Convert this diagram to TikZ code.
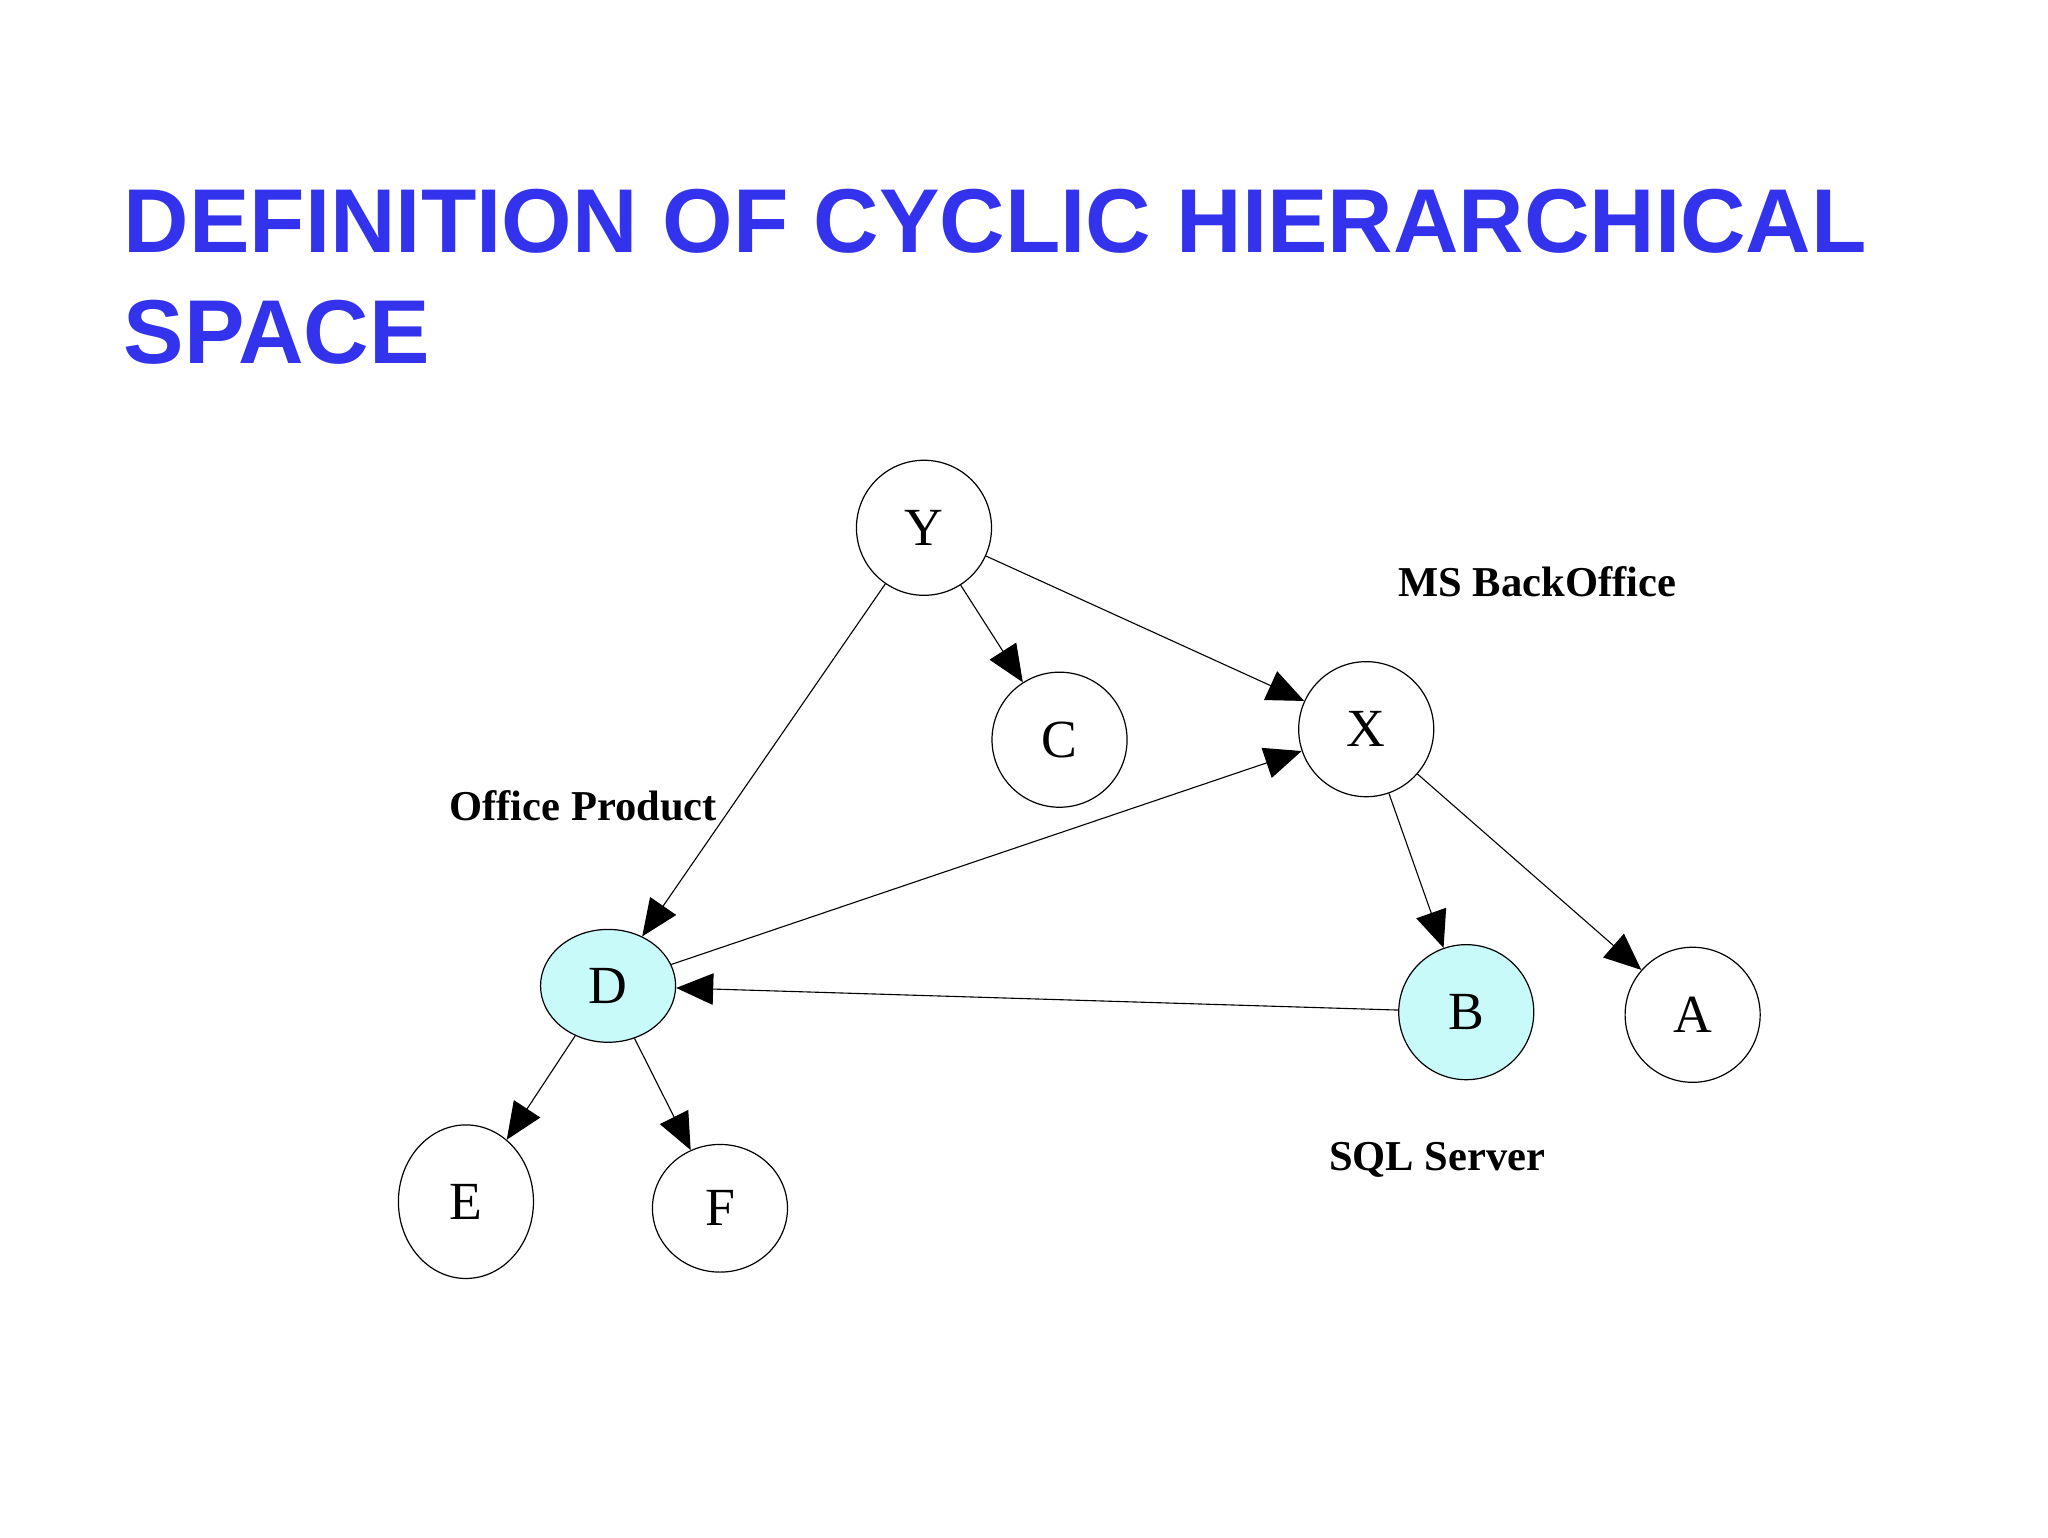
\documentclass[tikz,border=0pt]{standalone}
\usepackage{fontspec}
\setmainfont{Liberation Serif}
\newfontfamily\titlefont{Liberation Sans}
\usetikzlibrary{arrows.meta,shapes.geometric}
\definecolor{titleblue}{RGB}{51,51,238}
\definecolor{nodecyan}{RGB}{200,250,250}
\begin{document}
\begin{tikzpicture}[x=0.05cm,y=-0.05cm,
  gnode/.style={draw,line width=1.3pt,circle,minimum size=146pt,inner sep=0pt,font=\fontsize{58}{58}\selectfont},
  hnode/.style={gnode,fill=nodecyan},
  lbl/.style={font=\bfseries\fontsize{46}{46}\selectfont},
  edge/.style={line width=1.2pt,-{Triangle[length=40pt,width=34pt]}}]
\useasboundingbox[fill=white] (0,0) rectangle (1556,1168);
\node[anchor=base west,text=titleblue,font=\titlefont\bfseries\fontsize{98}{98}\selectfont,inner sep=0pt] (t1) at (94,192) {DEFINITION OF CYCLIC HIERARCHICAL};
\node[anchor=base west,text=titleblue,font=\titlefont\bfseries\fontsize{98}{98}\selectfont,inner sep=0pt] (t2) at (94,276) {SPACE};
\node[gnode] (Y) at (702,401) {Y};
\node[gnode] (C) at (805,562) {C};
\node[gnode] (X) at (1038,554) {X};
\node[hnode,ellipse,minimum width=146pt,minimum height=122pt] (D) at (462,749) {D};
\node[hnode] (B) at (1114,769) {B};
\node[gnode] (A) at (1286,771) {A};
\node[gnode,minimum width=146pt,minimum height=166pt,ellipse] (E) at (354,913) {E};
\node[gnode,minimum width=146pt,minimum height=138pt,ellipse] (F) at (547,918) {F};
\node[lbl] (l1) at (1168,442) {MS BackOffice};
\node[lbl] (l2) at (443,612) {Office Product};
\node[lbl] (l3) at (1092,881) {SQL Server};
\draw[edge] (Y) -- (C);
\draw[edge] (Y) -- (X);
\draw[edge] (Y) -- (D);
\draw[edge] (D) -- (X);
\draw[edge] (X) -- (B);
\draw[edge] (X) -- (A);
\draw[edge] (B) -- (D);
\draw[edge] (D) -- (E);
\draw[edge] (D) -- (F);
\end{tikzpicture}
\end{document}
